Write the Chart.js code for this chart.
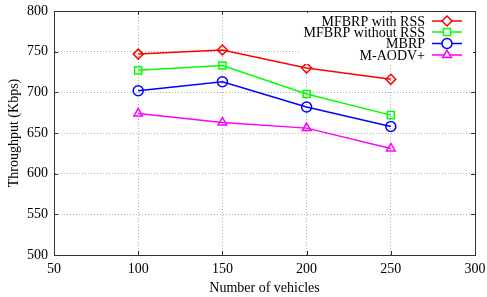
<!DOCTYPE html>
<html>
<head>
<meta charset="utf-8">
<script src="https://cdn.jsdelivr.net/npm/chart.js@4/dist/chart.umd.min.js"></script>
<style>
  html, body { margin: 0; padding: 0; background: #fff; }
  #wrap { width: 487px; height: 297px; }
</style>
</head>
<body>
<div id="wrap"><canvas id="chartThroughput" width="487" height="297"></canvas></div>
<script>
// ---- data ----
const vehicles = [100, 150, 200, 250];
const mfbrpRss = [747, 752, 730, 716];
const mfbrpNoRss = [727, 733, 698, 672];
const mbrp = [702, 713, 682, 658];
const maodv = [674, 663, 656, 631];

const seriesNames = ['MFBRP with RSS', 'MFBRP without RSS', 'MBRP', 'M-AODV+'];
const seriesColors = ['#ff0000', '#00ff00', '#0000ff', '#ff00ff'];
const seriesMarkers = ['rectRot', 'rect', 'circle', 'triangle'];
const seriesValues = [mfbrpRss, mfbrpNoRss, mbrp, maodv];

const FONT = { family: '"Liberation Serif", "DejaVu Serif", serif', size: 14 };
const FRAME = '#333';

function toPoints(vals) {
    return vehicles.map((v, i) => ({ x: v, y: vals[i] }));
}

const datasets = seriesNames.map((name, i) => ({
    label: name,
    data: toPoints(seriesValues[i]),
    borderColor: seriesColors[i],
    backgroundColor: 'rgba(0,0,0,0)',
    pointBorderColor: seriesColors[i],
    pointBackgroundColor: 'rgba(0,0,0,0)',
    pointStyle: seriesMarkers[i],
    pointRadius: 5,
    pointBorderWidth: 1.5,
    borderWidth: 1.5,
    showLine: true,
    tension: 0
}));

// grid lines only inside the frame, dotted
function innerGrid(ctx) {
    const s = ctx.scale;
    const v = ctx.tick && ctx.tick.value;
    return (v === s.min || v === s.max) ? 'rgba(0,0,0,0)' : '#b0b0b0';
}

// gnuplot style frame: top/right border, inward tick marks, key box
const framePlugin = {
    id: 'frame',
    afterDatasetsDraw(chart) {
        const { ctx, chartArea: a, scales } = chart;
        ctx.save();
        ctx.strokeStyle = FRAME;
        ctx.lineWidth = 1;
        ctx.strokeRect(a.left + 0.5, a.top + 0.5, a.right - a.left, a.bottom - a.top);
        const t = 4;
        ctx.beginPath();
        scales.x.ticks.forEach(tk => {
            const px = Math.round(scales.x.getPixelForValue(tk.value)) + 0.5;
            ctx.moveTo(px, a.bottom); ctx.lineTo(px, a.bottom - t);
            ctx.moveTo(px, a.top); ctx.lineTo(px, a.top + t);
        });
        scales.y.ticks.forEach(tk => {
            const py = Math.round(scales.y.getPixelForValue(tk.value)) + 0.5;
            ctx.moveTo(a.left, py); ctx.lineTo(a.left + t, py);
            ctx.moveTo(a.right, py); ctx.lineTo(a.right - t, py);
        });
        ctx.stroke();

        // key
        const textRight = a.right - 50;
        const lineL = a.right - 43, lineR = a.right - 13;
        const rowY = [21, 32, 43.5, 55];
        ctx.fillStyle = '#fff';
        ctx.fillRect(textRight - 126, a.top + 2, a.right - 2 - (textRight - 126), rowY[3] + 7 - a.top);
        ctx.font = FONT.size + 'px ' + FONT.family;
        ctx.textAlign = 'right';
        ctx.textBaseline = 'middle';
        seriesNames.forEach((name, i) => {
            const y = rowY[i];
            ctx.fillStyle = '#000';
            ctx.fillText(name, textRight, y + 1);
            ctx.strokeStyle = seriesColors[i];
            ctx.lineWidth = 1.5;
            ctx.beginPath();
            ctx.moveTo(lineL, y); ctx.lineTo(lineR, y);
            ctx.stroke();
            ctx.fillStyle = '#fff';
            Chart.helpers.drawPoint(ctx, {
                pointStyle: seriesMarkers[i], radius: 5, borderWidth: 1.5, rotation: 0
            }, (lineL + lineR) / 2, y);
        });
        ctx.restore();
    }
};

new Chart(document.getElementById('chartThroughput'), {
    type: 'scatter',
    data: { datasets: datasets },
    options: {
        responsive: false,
        animation: false,
        devicePixelRatio: 1,
        layout: { padding: { top: 11, right: 12, left: 0, bottom: 0 } },
        plugins: {
            legend: { display: false },
            tooltip: { enabled: false }
        },
        scales: {
            x: {
                type: 'linear',
                min: 50, max: 300,
                ticks: { stepSize: 50, color: '#000', font: FONT, padding: 6, maxRotation: 0 },
                grid: { color: innerGrid, drawTicks: false, lineWidth: 1 },
                border: { color: FRAME, dash: [1, 2], display: true },
                title: { display: true, text: 'Number of vehicles', color: '#000', font: FONT, padding: { top: 0, bottom: 0 } },
                afterFit(s) { s.height = 42; s.paddingLeft = 0; s.paddingRight = 0; }
            },
            y: {
                min: 500, max: 800,
                ticks: { stepSize: 50, color: '#000', font: FONT, padding: 6 },
                grid: { color: innerGrid, drawTicks: false, lineWidth: 1 },
                border: { color: FRAME, dash: [1, 2], display: true },
                title: { display: true, text: 'Throughput (Kbps)', color: '#000', font: FONT, padding: { top: 6, bottom: 0 } },
                afterFit(s) { s.width = 54; s.paddingTop = 0; s.paddingBottom = 0; }
            }
        }
    },
    plugins: [framePlugin]
});
</script>
</body>
</html>
